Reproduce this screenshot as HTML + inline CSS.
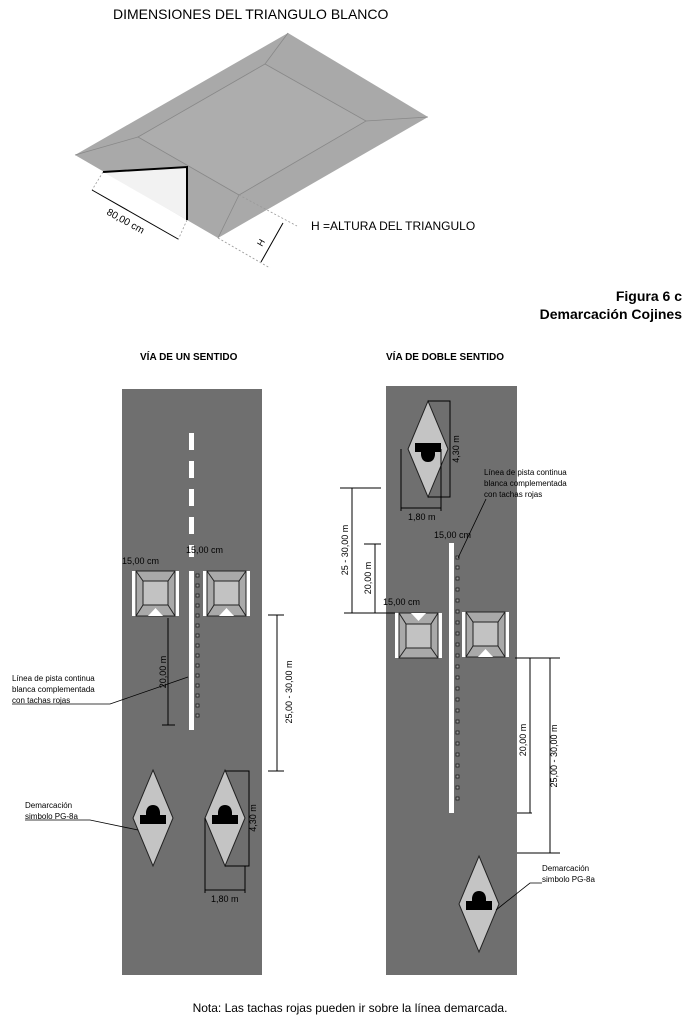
<!DOCTYPE html>
<html><head><meta charset="utf-8"><style>
html,body{margin:0;padding:0;background:#fff;}
svg{display:block;font-family:"Liberation Sans",Arial,sans-serif;}
</style></head><body>
<svg width="700" height="1021" viewBox="0 0 700 1021" xmlns="http://www.w3.org/2000/svg">
<defs>
<g id="cush">
  <rect x="0" y="0" width="47" height="45" fill="#fff"/>
  <rect x="4" y="0" width="39" height="45" fill="#a9a9a9" stroke="#222" stroke-width="1"/>
  <rect x="11" y="10" width="25" height="24" fill="#c2c2c2" stroke="#222" stroke-width="1"/>
  <path d="M4 0 L11 10 M43 0 L36 10 M4 45 L11 34 M43 45 L36 34" stroke="#222" stroke-width="1"/>
  <path d="M16 45 L23.5 37 L31 45 Z" fill="#fff"/>
</g>
<g id="dia">
  <path d="M0 -48 L20 0 L0 48 L-20 0 Z" fill="#c4c4c4" stroke="#222" stroke-width="1"/>
  <path d="M-13 -3 L-7 -3 L-7 -6 Q-6 -13 0 -13 Q6 -13 7 -6 L7 -3 L13 -3 L13 6 L-13 6 Z" fill="#000"/>
</g>
</defs>

<text x="113" y="19" font-size="14">DIMENSIONES DEL TRIANGULO BLANCO</text>
<path d="M75 155 L288 33 L428 117 L218 238 Z" fill="#a9a9a9"/>
<path d="M138 137 L265 64 L366 121 L239 195 Z" fill="#adadad" stroke="#888" stroke-width="0.8"/>
<path d="M75 155 L138 137 M288 33 L265 64 M428 117 L366 121 M218 238 L239 195" stroke="#888" stroke-width="0.8"/>
<path d="M103 172 L187 167 L187 220 Z" fill="#f2f2f2"/>
<path d="M103 172 L187 167 L187 220" fill="none" stroke="#000" stroke-width="2"/>
<path d="M103 172 L92 190 M187 220 L178 240 M239 195 L297 226 M218 238 L270 268" stroke="#999" stroke-dasharray="2,2" stroke-width="0.8"/>
<line x1="92" y1="190" x2="178" y2="239" stroke="#000" stroke-width="1"/>
<line x1="283" y1="223" x2="261" y2="262" stroke="#000" stroke-width="1"/>
<text x="0" y="0" font-size="10" transform="translate(106,214) rotate(29)">80,00 cm</text>
<text x="0" y="0" font-size="9" transform="translate(262,247) rotate(-60)">H</text>
<text x="311" y="230" font-size="12">H =ALTURA DEL TRIANGULO</text>

<text x="682" y="301" font-size="14" font-weight="bold" text-anchor="end">Figura 6 c</text>
<text x="682" y="319" font-size="14" font-weight="bold" text-anchor="end">Demarcación Cojines</text>
<text x="140" y="360" font-size="10" font-weight="bold">VÍA DE UN SENTIDO</text>
<text x="386" y="360" font-size="10" font-weight="bold">VÍA DE DOBLE SENTIDO</text>

<rect x="122" y="389" width="140" height="586" fill="#6f6f6f"/>
<g fill="#fff">
<rect x="189" y="433" width="5" height="17"/><rect x="189" y="461" width="5" height="17"/><rect x="189" y="489" width="5" height="17"/><rect x="189" y="517" width="5" height="17"/><rect x="189" y="545" width="5" height="12"/>
<rect x="189" y="571" width="5" height="159"/>
</g>
<g fill="#999" stroke="#111" stroke-width="0.7">
<rect x="196" y="574" width="3" height="3"/><rect x="196" y="584" width="3" height="3"/><rect x="196" y="594" width="3" height="3"/><rect x="196" y="604" width="3" height="3"/><rect x="196" y="614" width="3" height="3"/><rect x="196" y="624" width="3" height="3"/><rect x="196" y="634" width="3" height="3"/><rect x="196" y="644" width="3" height="3"/><rect x="196" y="654" width="3" height="3"/><rect x="196" y="664" width="3" height="3"/><rect x="196" y="674" width="3" height="3"/><rect x="196" y="684" width="3" height="3"/><rect x="196" y="694" width="3" height="3"/><rect x="196" y="704" width="3" height="3"/><rect x="196" y="714" width="3" height="3"/>
</g>
<use href="#cush" x="132" y="571"/>
<use href="#cush" x="203" y="571"/>
<text x="122" y="564" font-size="9">15,00 cm</text>
<text x="186" y="553" font-size="9">15,00 cm</text>
<line x1="168" y1="618" x2="168" y2="725" stroke="#000"/><line x1="162" y1="725" x2="175" y2="725" stroke="#000"/>
<text font-size="9" transform="translate(166,672) rotate(-90)" text-anchor="middle">20,00 m</text>
<line x1="277" y1="615" x2="277" y2="771" stroke="#000"/><line x1="268" y1="615" x2="284" y2="615" stroke="#000"/><line x1="268" y1="771" x2="284" y2="771" stroke="#000"/>
<text font-size="9" transform="translate(292,692) rotate(-90)" text-anchor="middle">25,00 - 30,00 m</text>
<text x="12" y="681" font-size="8">Línea de pista continua</text>
<text x="12" y="692" font-size="8">blanca complementada</text>
<text x="12" y="703" font-size="8">con tachas rojas</text>
<path d="M12 704 L110 704 L188 677" fill="none" stroke="#000" stroke-width="0.8"/>
<use href="#dia" x="153" y="818"/>
<use href="#dia" x="225" y="818"/>
<text x="25" y="808" font-size="8">Demarcación</text>
<text x="25" y="819" font-size="8">simbolo PG-8a</text>
<path d="M25 820 L90 820 L138 830" fill="none" stroke="#000" stroke-width="0.8"/>
<path d="M225 771 L249 771 L249 866 L225 866" fill="none" stroke="#000"/>
<text font-size="9" transform="translate(256,818) rotate(-90)" text-anchor="middle">4,30 m</text>
<path d="M205 818 L205 893 M245 866 L245 893 M205 890 L245 890" fill="none" stroke="#000"/>
<text x="211" y="902" font-size="9">1,80 m</text>

<rect x="386" y="386" width="131" height="589" fill="#6f6f6f"/>
<use href="#dia" transform="translate(428,449) rotate(180)"/>
<path d="M428 401 L450 401 L450 497 L428 497" fill="none" stroke="#000"/>
<text font-size="9" transform="translate(459,449) rotate(-90)" text-anchor="middle">4,30 m</text>
<path d="M401 449 L401 511 M441 449 L441 511 M401 508 L441 508" fill="none" stroke="#000"/>
<text x="408" y="520" font-size="9">1,80 m</text>
<rect x="449" y="543" width="5" height="270" fill="#fff"/>
<g fill="#999" stroke="#111" stroke-width="0.7">
<rect x="456" y="556" width="3" height="3"/><rect x="456" y="566" width="3" height="3"/><rect x="456" y="577" width="3" height="3"/><rect x="456" y="588" width="3" height="3"/><rect x="456" y="599" width="3" height="3"/><rect x="456" y="610" width="3" height="3"/><rect x="456" y="621" width="3" height="3"/><rect x="456" y="632" width="3" height="3"/><rect x="456" y="643" width="3" height="3"/><rect x="456" y="654" width="3" height="3"/><rect x="456" y="665" width="3" height="3"/><rect x="456" y="676" width="3" height="3"/><rect x="456" y="687" width="3" height="3"/><rect x="456" y="698" width="3" height="3"/><rect x="456" y="709" width="3" height="3"/><rect x="456" y="720" width="3" height="3"/><rect x="456" y="731" width="3" height="3"/><rect x="456" y="742" width="3" height="3"/><rect x="456" y="753" width="3" height="3"/><rect x="456" y="764" width="3" height="3"/><rect x="456" y="775" width="3" height="3"/><rect x="456" y="786" width="3" height="3"/><rect x="456" y="797" width="3" height="3"/>
</g>
<use href="#cush" transform="translate(395,658) scale(1,-1)"/>
<use href="#cush" x="462" y="612"/>
<text x="434" y="538" font-size="9">15,00 cm</text>
<text x="383" y="605" font-size="9">15,00 cm</text>
<text x="484" y="475" font-size="8">Línea de pista continua</text>
<text x="484" y="486" font-size="8">blanca complementada</text>
<text x="484" y="497" font-size="8">con tachas rojas</text>
<path d="M486 499 L458 558" fill="none" stroke="#000" stroke-width="0.8"/>
<path d="M340 488 L381 488 M352 488 L352 613 M364 544 L381 544 M375 544 L375 613 M344 613 L395 613" fill="none" stroke="#000"/>
<text font-size="9" transform="translate(348,550) rotate(-90)" text-anchor="middle">25 - 30,00 m</text>
<text font-size="9" transform="translate(371,578) rotate(-90)" text-anchor="middle">20,00 m</text>
<path d="M515 658 L560 658 M530 658 L530 813 M517 813 L532 813 M550 658 L550 853 M517 853 L560 853" fill="none" stroke="#000"/>
<text font-size="9" transform="translate(526,740) rotate(-90)" text-anchor="middle">20,00 m</text>
<text font-size="9" transform="translate(557,756) rotate(-90)" text-anchor="middle">25,00 - 30,00 m</text>
<use href="#dia" x="479" y="904"/>
<text x="542" y="871" font-size="8">Demarcación</text>
<text x="542" y="882" font-size="8">simbolo PG-8a</text>
<path d="M542 883 L530 883 L496 910" fill="none" stroke="#000" stroke-width="0.8"/>

<text x="350" y="1012" font-size="12" text-anchor="middle">Nota: Las tachas rojas pueden ir sobre la línea demarcada.</text>
</svg>
</body></html>
